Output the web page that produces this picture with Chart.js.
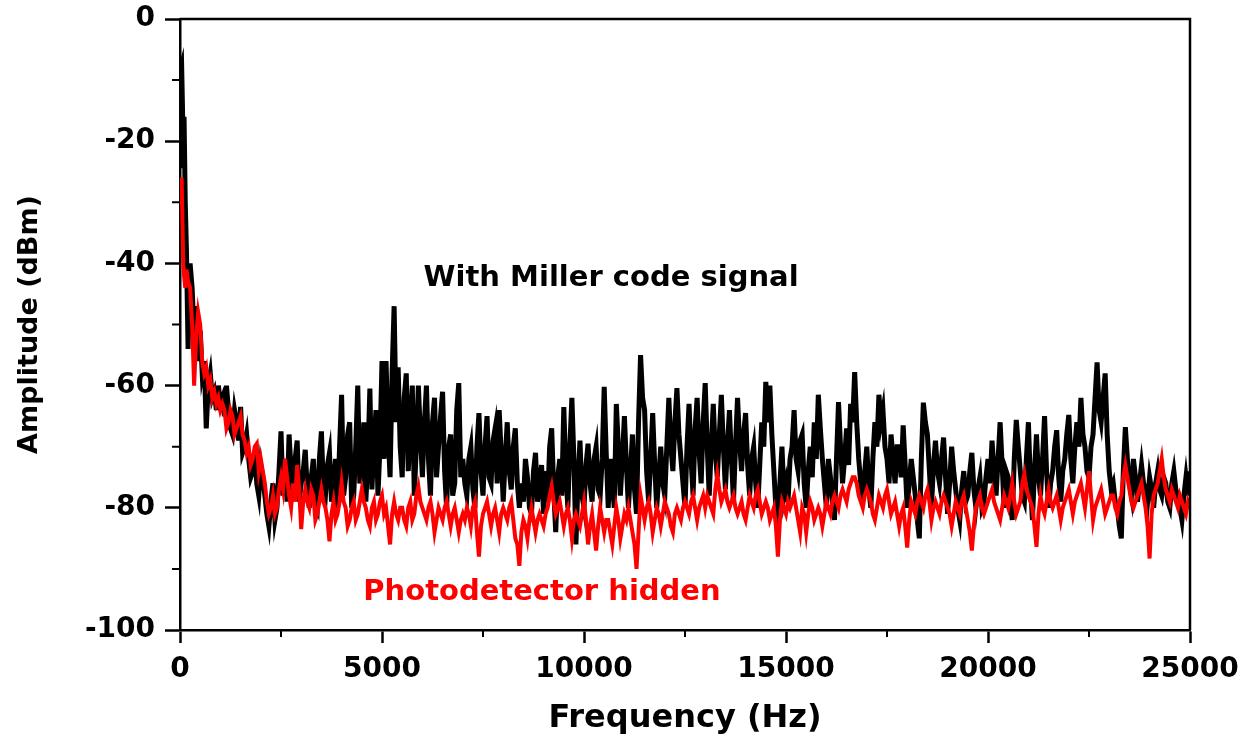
<!DOCTYPE html>
<html>
<head>
<meta charset="utf-8">
<script src="https://cdn.jsdelivr.net/npm/chart.js@4.4.1/dist/chart.umd.min.js"></script>
<style>
  html, body { margin: 0; padding: 0; background: #fff; }
  #wrap { width: 1254px; height: 740px; }
</style>
</head>
<body>
<div id="wrap"><canvas id="spectrum" width="1254" height="740"></canvas></div>
<script>
// frequency axis of the spectrum (Hz)
const freqHz = [
    0, 20, 40, 60, 80, 100, 130, 160, 200, 250,
    300, 350, 400, 450, 500, 550, 600, 650, 700, 750,
    800, 850, 900, 950, 1000,
    1050, 1100, 1150, 1200, 1250, 1300, 1350, 1400, 1450, 1500, 1550, 1600, 1650, 1700, 1750, 1800, 1850, 1900, 1950, 2000,
    2050, 2100, 2150, 2200, 2250, 2300, 2350, 2400, 2450, 2500, 2550, 2600, 2650, 2700, 2750, 2800, 2850, 2900, 2950, 3000,
    3050, 3100, 3150, 3200, 3250, 3300, 3350, 3400, 3450, 3500, 3550, 3600, 3650, 3700, 3750, 3800, 3850, 3900, 3950, 4000,
    4050, 4100, 4150, 4200, 4250, 4300, 4350, 4400, 4450, 4500, 4550, 4600, 4650, 4700, 4750, 4800, 4850, 4900, 4950, 5000,
    5050, 5100, 5150, 5200, 5250, 5300, 5350, 5400, 5450, 5500, 5550, 5600, 5650, 5700, 5750, 5800, 5850, 5900, 5950, 6000,
    6050, 6100, 6150, 6200, 6250, 6300, 6350, 6400, 6450, 6500, 6550, 6600, 6650, 6700, 6750, 6800, 6850, 6900, 6950, 7000,
    7050, 7100, 7150, 7200, 7250, 7300, 7350, 7400, 7450, 7500, 7550, 7600, 7650, 7700, 7750, 7800, 7850, 7900, 7950, 8000,
    8050, 8100, 8150, 8200, 8250, 8300, 8350, 8400, 8450, 8500, 8550, 8600, 8650, 8700, 8750, 8800, 8850, 8900, 8950, 9000,
    9050, 9100, 9150, 9200, 9250, 9300, 9350, 9400, 9450, 9500, 9550, 9600, 9650, 9700, 9750, 9800, 9850, 9900, 9950, 10000,
    10050, 10100, 10150, 10200, 10250, 10300, 10350, 10400, 10450, 10500, 10550, 10600, 10650, 10700, 10750, 10800, 10850, 10900, 10950, 11000,
    11050, 11100, 11150, 11200, 11250, 11300, 11350, 11400, 11450, 11500, 11550, 11600, 11650, 11700, 11750, 11800, 11850, 11900, 11950, 12000,
    12050, 12100, 12150, 12200, 12250, 12300, 12350, 12400, 12450, 12500, 12550, 12600, 12650, 12700, 12750, 12800, 12850, 12900, 12950, 13000,
    13050, 13100, 13150, 13200, 13250, 13300, 13350, 13400, 13450, 13500, 13550, 13600, 13650, 13700, 13750, 13800, 13850, 13900, 13950, 14000,
    14050, 14100, 14150, 14200, 14250, 14300, 14350, 14400, 14450, 14500, 14550, 14600, 14650, 14700, 14750, 14800, 14850, 14900, 14950, 15000,
    15050, 15100, 15150, 15200, 15250, 15300, 15350, 15400, 15450, 15500, 15550, 15600, 15650, 15700, 15750, 15800, 15850, 15900, 15950, 16000,
    16050, 16100, 16150, 16200, 16250, 16300, 16350, 16400, 16450, 16500, 16550, 16600, 16650, 16700, 16750, 16800, 16850, 16900, 16950, 17000,
    17050, 17100, 17150, 17200, 17250, 17300, 17350, 17400, 17450, 17500, 17550, 17600, 17650, 17700, 17750, 17800, 17850, 17900, 17950, 18000,
    18050, 18100, 18150, 18200, 18250, 18300, 18350, 18400, 18450, 18500, 18550, 18600, 18650, 18700, 18750, 18800, 18850, 18900, 18950, 19000,
    19050, 19100, 19150, 19200, 19250, 19300, 19350, 19400, 19450, 19500, 19550, 19600, 19650, 19700, 19750, 19800, 19850, 19900, 19950, 20000,
    20050, 20100, 20150, 20200, 20250, 20300, 20350, 20400, 20450, 20500, 20550, 20600, 20650, 20700, 20750, 20800, 20850, 20900, 20950, 21000,
    21050, 21100, 21150, 21200, 21250, 21300, 21350, 21400, 21450, 21500, 21550, 21600, 21650, 21700, 21750, 21800, 21850, 21900, 21950, 22000,
    22050, 22100, 22150, 22200, 22250, 22300, 22350, 22400, 22450, 22500, 22550, 22600, 22650, 22700, 22750, 22800, 22850, 22900, 22950, 23000,
    23050, 23100, 23150, 23200, 23250, 23300, 23350, 23400, 23450, 23500, 23550, 23600, 23650, 23700, 23750, 23800, 23850, 23900, 23950, 24000,
    24050, 24100, 24150, 24200, 24250, 24300, 24350, 24400, 24450, 24500, 24550, 24600, 24650, 24700, 24750, 24800, 24850, 24900, 24950, 25000
];

// "With Miller code signal" (dBm)
const millerDbm = [
    -24, -8, -7.5, -14, -22, -16, -30, -38, -54, -40,
    -44, -52, -47, -56, -51, -58, -56, -67, -60, -58,
    -62, -61, -64, -60, -63,
    -62, -65, -60, -64, -67, -68, -64, -66, -69, -63.5, -71, -70, -68, -72, -75, -74, -71, -76, -78, -73,
    -75, -78, -81, -83, -79, -76, -82, -80, -74, -67.5, -78, -72, -79, -68, -74, -78, -72, -69, -79, -76,
    -74, -70.5, -77, -80, -75, -72, -79, -80, -72, -67.5, -77, -78, -73, -71, -79, -76, -72, -80, -70, -61.5,
    -78, -75, -68, -66, -80, -78, -70, -60, -76, -74, -66, -79, -72, -60.5, -77, -70, -64, -78, -70, -56,
    -72, -56, -68, -75, -58, -47, -66, -57, -70, -75, -62, -58, -74, -66, -60, -78, -70, -60, -68, -75,
    -66, -60, -72, -78, -66, -62, -75, -70, -65, -61, -74, -80, -70, -68, -78, -76, -64, -59.6, -75, -72,
    -76, -78, -72, -70, -77, -80, -70, -64.5, -74, -78, -70, -65, -75, -76, -69, -67, -76, -64, -71, -79,
    -72, -66, -74, -77, -70, -67, -76, -80, -76, -79, -72, -75, -80, -81, -74, -71, -79, -76, -73, -81,
    -74, -79, -70, -67, -77, -84, -75, -72, -78, -63.5, -74, -80, -70, -62, -72, -86, -76, -69, -78, -80,
    -73, -69.5, -76, -79, -72, -70, -77, -78, -72, -60.2, -71, -80, -72, -76, -80, -63, -70, -78, -72, -65,
    -73, -80, -74, -68, -77, -81, -66, -55, -62, -64, -74, -79, -72, -64.5, -73, -80, -75, -70, -76, -78,
    -70, -62, -70, -74, -66, -60.4, -68, -72, -76, -80, -70, -63, -72, -78, -67, -62, -71, -76, -66, -59.6,
    -70, -78, -70, -63, -71, -75, -68, -61.5, -70, -77, -70, -64, -72, -79, -70, -62, -69, -74, -68, -64.5,
    -73, -78, -72, -70, -76, -80, -73, -66, -70, -59.4, -66, -60, -68, -74, -80, -82, -76, -70, -78, -76,
    -79, -72, -70, -64, -72, -74, -69, -68, -76, -80, -74, -70, -75, -66, -72, -61.5, -67, -72, -76, -80,
    -72, -75, -79, -82, -72, -62.7, -70, -76, -72, -67, -73, -63, -66, -57.8, -66, -72, -76, -78, -74, -70,
    -77, -80, -72, -66, -70, -61.5, -66, -64, -70, -72, -76, -68, -72, -76, -70, -70, -75, -66.5, -73, -80,
    -76, -72, -75, -78, -82, -85, -72, -62.8, -66, -68, -74, -80, -73, -69, -74, -76, -72, -68.5, -75, -81,
    -76, -70, -74, -77, -80, -82, -77, -74, -79, -78, -74, -71, -77, -80, -77, -75, -80, -79, -75, -72,
    -76, -69, -74, -78, -72, -66, -73, -80, -74, -75, -79, -82, -72, -65.6, -70, -74, -78, -79, -72, -66,
    -76, -82, -74, -68, -75, -78, -72, -65, -74, -80, -76, -74, -70, -67.3, -75, -79, -74, -72, -68, -64.8,
    -72, -76, -70, -66, -70, -62, -68, -70, -74, -75, -70, -68, -62, -56.2, -64, -66, -62, -58, -68, -74,
    -77, -76, -79, -80, -83, -85, -74, -66.8, -72, -76, -78, -72, -75, -79, -76, -73, -76, -77, -79, -75,
    -77, -80, -76, -74, -77, -78, -75, -76, -79, -80, -76, -74, -77, -78, -80, -82, -78, -75, -78, -74
];

// "Photodetector hidden" (dBm)
const hiddenDbm = [
    -30, -27, -26, -33, -40, -42, -44, -41, -43, -44,
    -50, -60, -52, -48, -50, -56, -58, -57, -60, -59,
    -62, -61, -63, -62, -64,
    -63, -64, -67, -66, -64, -65, -68, -67, -66, -65, -68, -69, -71, -70, -73, -72, -70, -69.5, -74, -72,
    -74, -76, -79, -81, -80, -78, -81, -80, -77, -75, -77, -72, -75, -78, -80, -76, -79, -73, -77, -83.5,
    -79, -77, -79, -80, -77, -78, -82, -81, -79, -77, -79, -80, -82, -85.5, -81, -79, -82, -81, -79, -76,
    -79, -80, -83, -82, -80, -79, -82, -81, -79, -77, -79, -80, -82, -83, -80, -79, -82, -81, -79, -78,
    -81, -80, -83, -86, -81, -79, -81, -82, -80, -80, -82, -83, -80, -79, -82, -81, -78, -76.5, -79, -80,
    -81, -82, -80, -79, -81, -84, -82, -80, -81, -82, -80, -79, -81, -83, -81, -80, -82, -84, -82, -81,
    -82, -80, -81, -83, -80, -79, -84, -88, -83, -81, -80, -79, -81, -83, -81, -80, -82, -84, -81, -80,
    -81, -82, -80, -79, -82, -85, -86, -89.5, -84, -82, -83, -85, -82, -80, -82, -84, -82, -81, -82, -83,
    -81, -80, -78, -76.5, -79, -81, -80, -79, -81, -83, -81, -80, -82, -85, -82, -81, -82, -83, -81, -79,
    -82, -86, -83, -81, -84, -87, -83, -80, -82, -84, -82, -82, -84, -86, -83, -80, -82, -85, -83, -81,
    -82, -80, -82, -84, -86, -90, -84, -78, -80, -82, -80, -79, -81, -84, -82, -80, -81, -83, -81, -79,
    -80, -81, -83, -84, -81, -80, -81, -82, -80, -79, -80, -81, -79, -78, -80, -82, -80, -79, -78, -80,
    -78, -79, -80, -81, -77, -74.5, -77, -79, -78, -77, -79, -80, -79, -78, -80, -81, -80, -79, -81, -82,
    -80, -78, -79, -80, -78, -77, -79, -81, -80, -79, -80, -82, -81, -80, -83, -88, -82, -79, -80, -81,
    -79, -80, -79, -78, -80, -82, -84, -80, -81, -84, -81, -79, -80, -82, -81, -80, -81, -83, -81, -79,
    -80, -81, -79, -78, -79, -80, -78, -77, -78, -79, -77, -76, -75, -75, -76, -78, -79, -80, -78, -77,
    -78, -79, -81, -82, -80, -78, -79, -80, -78, -77, -79, -81, -80, -79, -81, -83, -81, -80, -83, -86.5,
    -82, -79, -80, -81, -79, -78, -79, -80, -78, -77, -79, -82, -80, -79, -80, -81, -79, -78, -79, -80,
    -81, -83, -81, -79, -80, -81, -79, -78, -80, -82, -84, -87, -83, -80, -79, -78, -80, -81, -80, -79,
    -78, -77, -79, -80, -81, -82, -80, -78, -79, -80, -78, -76, -79, -81, -80, -79, -76, -74.5, -77, -78,
    -79, -80, -83, -86.4, -81, -78, -80, -81, -79, -77, -79, -80, -79, -78, -80, -82, -80, -79, -78, -77,
    -79, -81, -79, -78, -77, -76, -78, -80, -77, -74, -78, -82, -80, -79, -78, -77, -79, -81, -80, -79,
    -78, -78, -80, -81, -79, -78, -75, -73, -75, -77, -79, -80, -79, -78, -77, -76, -78, -80, -83, -88.3,
    -81, -78, -77, -76, -74, -72, -75, -77, -78, -79, -77, -78, -79, -80, -78, -79, -80, -81, -79, -80
];

const minorTicksX = [2500, 7500, 12500, 17500, 22500];
const minorTicksY = [-10, -30, -50, -70, -90];

const FONT = 'DejaVu Sans';

function toPoints(ys) {
    return ys.map((v, i) => ({ x: freqHz[i], y: v }));
}

// box frame, minor ticks and the two in-plot labels
const extras = {
    id: 'extras',
    afterDatasetsDraw(chart) {
        const { ctx, scales: { x, y } } = chart;
        ctx.save();
        ctx.font = 'bold 29px "' + FONT + '"';
        ctx.textAlign = 'center';
        ctx.textBaseline = 'middle';
        ctx.fillStyle = '#000';
        ctx.fillText('With Miller code signal', x.getPixelForValue(10670), y.getPixelForValue(-42.4));
        ctx.fillStyle = '#ff0000';
        ctx.fillText('Photodetector hidden', x.getPixelForValue(8960), y.getPixelForValue(-93.9));
        ctx.restore();
    },
    afterDraw(chart) {
        const { ctx, chartArea: a, scales: { x, y } } = chart;
        ctx.save();
        ctx.strokeStyle = '#000';
        ctx.lineWidth = 2.5;
        ctx.beginPath();
        ctx.moveTo(a.left, a.top);
        ctx.lineTo(a.right, a.top);
        ctx.lineTo(a.right, a.bottom);
        ctx.stroke();

        ctx.lineWidth = 2;
        ctx.beginPath();
        for (const v of minorTicksX) {
            const px = x.getPixelForValue(v);
            ctx.moveTo(px, a.bottom);
            ctx.lineTo(px, a.bottom + 7);
        }
        for (const v of minorTicksY) {
            const py = y.getPixelForValue(v);
            ctx.moveTo(a.left, py);
            ctx.lineTo(a.left - 8, py);
        }
        ctx.stroke();
        ctx.restore();
    }
};

const ctx = document.getElementById('spectrum').getContext('2d');
// eslint-disable-next-line no-undef
new Chart(ctx, {
    type: 'line',
    data: {
        datasets: [
            {
                label: 'Photodetector hidden',
                data: toPoints(hiddenDbm),
                borderColor: '#ff0000',
                borderWidth: 4,
                pointRadius: 0,
                tension: 0
            },
            {
                label: 'With Miller code signal',
                data: toPoints(millerDbm),
                borderColor: '#000000',
                borderWidth: 5,
                pointRadius: 0,
                tension: 0
            }
        ]
    },
    options: {
        responsive: false,
        animation: false,
        devicePixelRatio: 1,
        layout: { padding: { left: 0, right: 64, top: 19, bottom: 0 } },
        plugins: {
            legend: { display: false },
            tooltip: { enabled: false }
        },
        scales: {
            x: {
                type: 'linear',
                min: 0,
                max: 25000,
                afterFit: (s) => { s.height = 110; s.paddingLeft = 0; s.paddingRight = 0; },
                ticks: {
                    stepSize: 5000,
                    autoSkip: false,
                    maxRotation: 0,
                    padding: 10,
                    color: '#000',
                    font: { family: FONT, size: 28, weight: 'bold' },
                    callback: (v) => String(v)
                },
                grid: {
                    drawOnChartArea: false,
                    tickLength: 13,
                    tickWidth: 2.5,
                    color: '#000'
                },
                border: { color: '#000', width: 2.5 },
                title: {
                    display: true,
                    text: 'Frequency (Hz)',
                    color: '#000',
                    font: { family: FONT, size: 32, weight: 'bold' },
                    padding: { top: 0, bottom: 2 }
                }
            },
            y: {
                min: -100,
                max: 0,
                afterFit: (s) => { s.width = 180; s.paddingTop = 0; s.paddingBottom = 0; },
                ticks: {
                    stepSize: 20,
                    padding: 10,
                    color: '#000',
                    font: { family: FONT, size: 28, weight: 'bold' },
                    callback: (v) => String(v)
                },
                grid: {
                    drawOnChartArea: false,
                    tickLength: 15,
                    tickWidth: 2.5,
                    color: '#000'
                },
                border: { color: '#000', width: 2.5 },
                title: {
                    display: true,
                    text: 'Amplitude (dBm)',
                    color: '#000',
                    font: { family: FONT, size: 27, weight: 'bold' },
                    padding: { top: 14, bottom: 0 }
                }
            }
        }
    },
    plugins: [extras]
});
</script>
</body>
</html>
